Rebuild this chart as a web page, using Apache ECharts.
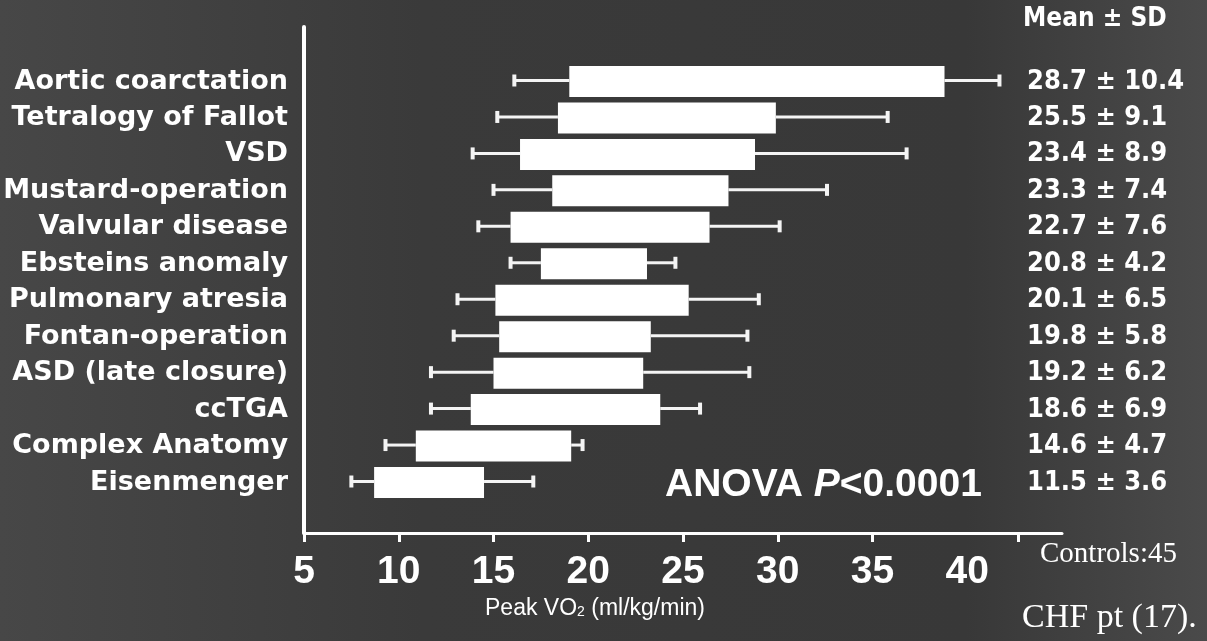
<!DOCTYPE html>
<html>
<head>
<meta charset="utf-8">
<script src="https://cdn.jsdelivr.net/npm/echarts@6/dist/echarts.min.js"></script>
<style>
html,body{margin:0;padding:0;background:#3b3b3b;}
#chart{width:1207px;height:641px;}
</style>
</head>
<body>
<div id="chart"></div>
<script>
// ---- data ----
const categories = ['Aortic coarctation','Tetralogy of Fallot','VSD','Mustard-operation','Valvular disease','Ebsteins anomaly','Pulmonary atresia','Fontan-operation','ASD (late closure)','ccTGA','Complex Anatomy','Eisenmenger'];
const whiskerLow  = [16.1, 15.2, 13.9, 15.0, 14.2, 15.9, 13.1, 12.9, 11.7, 11.7, 9.3, 7.5];
const boxLow      = [19.0, 18.4, 16.4, 18.1, 15.9, 17.5, 15.1, 15.3, 15.0, 13.8, 10.9, 8.7];
const boxHigh     = [38.8, 29.9, 28.8, 27.4, 26.4, 23.1, 25.3, 23.3, 22.9, 23.8, 19.1, 14.5];
const whiskerHigh = [41.7, 35.8, 36.8, 32.6, 30.1, 24.6, 29.0, 28.4, 28.5, 25.9, 19.7, 17.1];
const means = [28.7, 25.5, 23.4, 23.3, 22.7, 20.8, 20.1, 19.8, 19.2, 18.6, 14.6, 11.5];
const sds   = [10.4, 9.1, 8.9, 7.4, 7.6, 4.2, 6.5, 5.8, 6.2, 6.9, 4.7, 3.6];
const xTickLabels = [5, 10, 15, 20, 25, 30, 35, 40];
const xTickMarks  = [5, 10, 15, 20, 25, 30, 35, 42.7];

const rowIdx = categories.map((c, i) => i);
const boxData = categories.map((c, i) => [i, whiskerLow[i], boxLow[i], boxHigh[i], whiskerHigh[i]]);

const chart = echarts.init(document.getElementById('chart'), null, {renderer: 'canvas'});

const yMin = -1.495, yMax = 12.385;

const option = {
  animation: false,
  backgroundColor: {
    type: 'linear', x: 0, y: 0, x2: 1, y2: 0,
    colorStops: [
      {offset: 0, color: '#474747'},
      {offset: 0.35, color: '#3a3a3a'},
      {offset: 0.8, color: '#383838'},
      {offset: 1, color: '#4a4a4a'}
    ]
  },
  grid: {left: 304, right: 145, top: 27, bottom: 108},
  xAxis: {
    type: 'value', min: 5, max: 45,
    axisLine: {show: true, onZero: false, lineStyle: {color: '#ffffff', width: 3}},
    axisTick: {show: true, customValues: xTickMarks, length: 9, lineStyle: {color: '#ffffff', width: 3}},
    splitLine: {show: false},
    axisLabel: {
      customValues: xTickLabels, margin: 20,
      color: '#ffffff', fontSize: 39, fontWeight: 'bold', fontFamily: 'Liberation Sans, Arial, sans-serif'
    },
    name: 'Peak VO{s|2} (ml/kg/min)',
    nameLocation: 'middle', nameGap: 62,
    nameTextStyle: {
      color: '#ffffff', fontSize: 23, fontFamily: 'Liberation Sans, Arial, sans-serif',
      padding: [0, 176, 0, 0],
      rich: {s: {fontSize: 14, color: '#ffffff', padding: [8, 0, 0, 0], fontFamily: 'Liberation Sans, Arial, sans-serif'}}
    }
  },
  yAxis: [
    {
      type: 'value', min: yMin, max: yMax, inverse: true, position: 'left',
      axisLine: {show: true, onZero: false, lineStyle: {color: '#ffffff', width: 4}},
      axisTick: {show: false},
      splitLine: {show: false},
      axisLabel: {
        customValues: rowIdx, margin: 16,
        formatter: v => categories[Math.round(v)] || '',
        color: '#ffffff', fontSize: 27, fontWeight: 'bold', fontFamily: 'DejaVu Sans, sans-serif'
      }
    },
    {
      type: 'value', min: yMin, max: yMax, inverse: true, position: 'right', offset: -40,
      axisLine: {show: false},
      axisTick: {show: false},
      splitLine: {show: false},
      axisLabel: {
        customValues: rowIdx, margin: 5, align: 'left',
        formatter: v => {
          const i = Math.round(v);
          return means[i] === undefined ? '' : means[i].toFixed(1) + ' ± ' + sds[i].toFixed(1);
        },
        padding: [0, 0, 20, 0],
        color: '#ffffff', fontSize: 27, fontWeight: 'bold', fontFamily: 'DejaVu Sans Condensed, DejaVu Sans, sans-serif'
      }
    }
  ],
  series: [{
    type: 'custom',
    xAxisIndex: 0, yAxisIndex: 0,
    data: boxData,
    encode: {x: [1, 2, 3, 4], y: 0},
    renderItem: function (params, api) {
      const y = api.value(0);
      const pLo = api.coord([api.value(1), y]);
      const pQ1 = api.coord([api.value(2), y]);
      const pQ3 = api.coord([api.value(3), y]);
      const pHi = api.coord([api.value(4), y]);
      const band = api.size([0, 1])[1];
      const h = band * 0.85;
      const cap = 12;
      const lineStyle = {stroke: '#f4f4f4', lineWidth: 3};
      return {
        type: 'group',
        children: [
          {type: 'line', shape: {x1: pLo[0], y1: pLo[1] - 1, x2: pQ1[0], y2: pQ1[1] - 1}, style: lineStyle},
          {type: 'line', shape: {x1: pQ3[0], y1: pQ3[1] - 1, x2: pHi[0], y2: pHi[1] - 1}, style: lineStyle},
          {type: 'line', shape: {x1: pLo[0], y1: pLo[1] - 1 - cap / 2, x2: pLo[0], y2: pLo[1] - 1 + cap / 2}, style: {stroke: '#f4f4f4', lineWidth: 4}},
          {type: 'line', shape: {x1: pHi[0], y1: pHi[1] - 1 - cap / 2, x2: pHi[0], y2: pHi[1] - 1 + cap / 2}, style: {stroke: '#f4f4f4', lineWidth: 4}},
          {type: 'rect', shape: {x: pQ1[0], y: pQ1[1] - h / 2, width: pQ3[0] - pQ1[0], height: h}, style: {fill: '#ffffff'}}
        ]
      };
    }
  }],
  graphic: [
    {type: 'text', left: 1023, top: 6, style: {text: 'Mean ± SD', fill: '#ffffff', font: 'bold 26px "DejaVu Sans Condensed", "DejaVu Sans", sans-serif'}},
    {type: 'text', left: 665, top: 466, style: {
      text: '{n|ANOVA }{i|P}{n|<0.0001}',
      rich: {
        n: {fill: '#ffffff', fontSize: 39, fontWeight: 'bold', fontFamily: 'Liberation Sans, Arial, sans-serif'},
        i: {fill: '#ffffff', fontSize: 39, fontWeight: 'bold', fontStyle: 'italic', fontFamily: 'Liberation Sans, Arial, sans-serif'}
      }
    }},
    {type: 'text', left: 1040, top: 540, style: {text: 'Controls:45', fill: '#ffffff', font: '29px "Liberation Serif", "Times New Roman", serif'}},
    {type: 'text', left: 1022, top: 601, style: {text: 'CHF pt (17).', fill: '#ffffff', font: '34px "Liberation Serif", "Times New Roman", serif'}}
  ]
};
chart.setOption(option);
</script>
</body>
</html>
